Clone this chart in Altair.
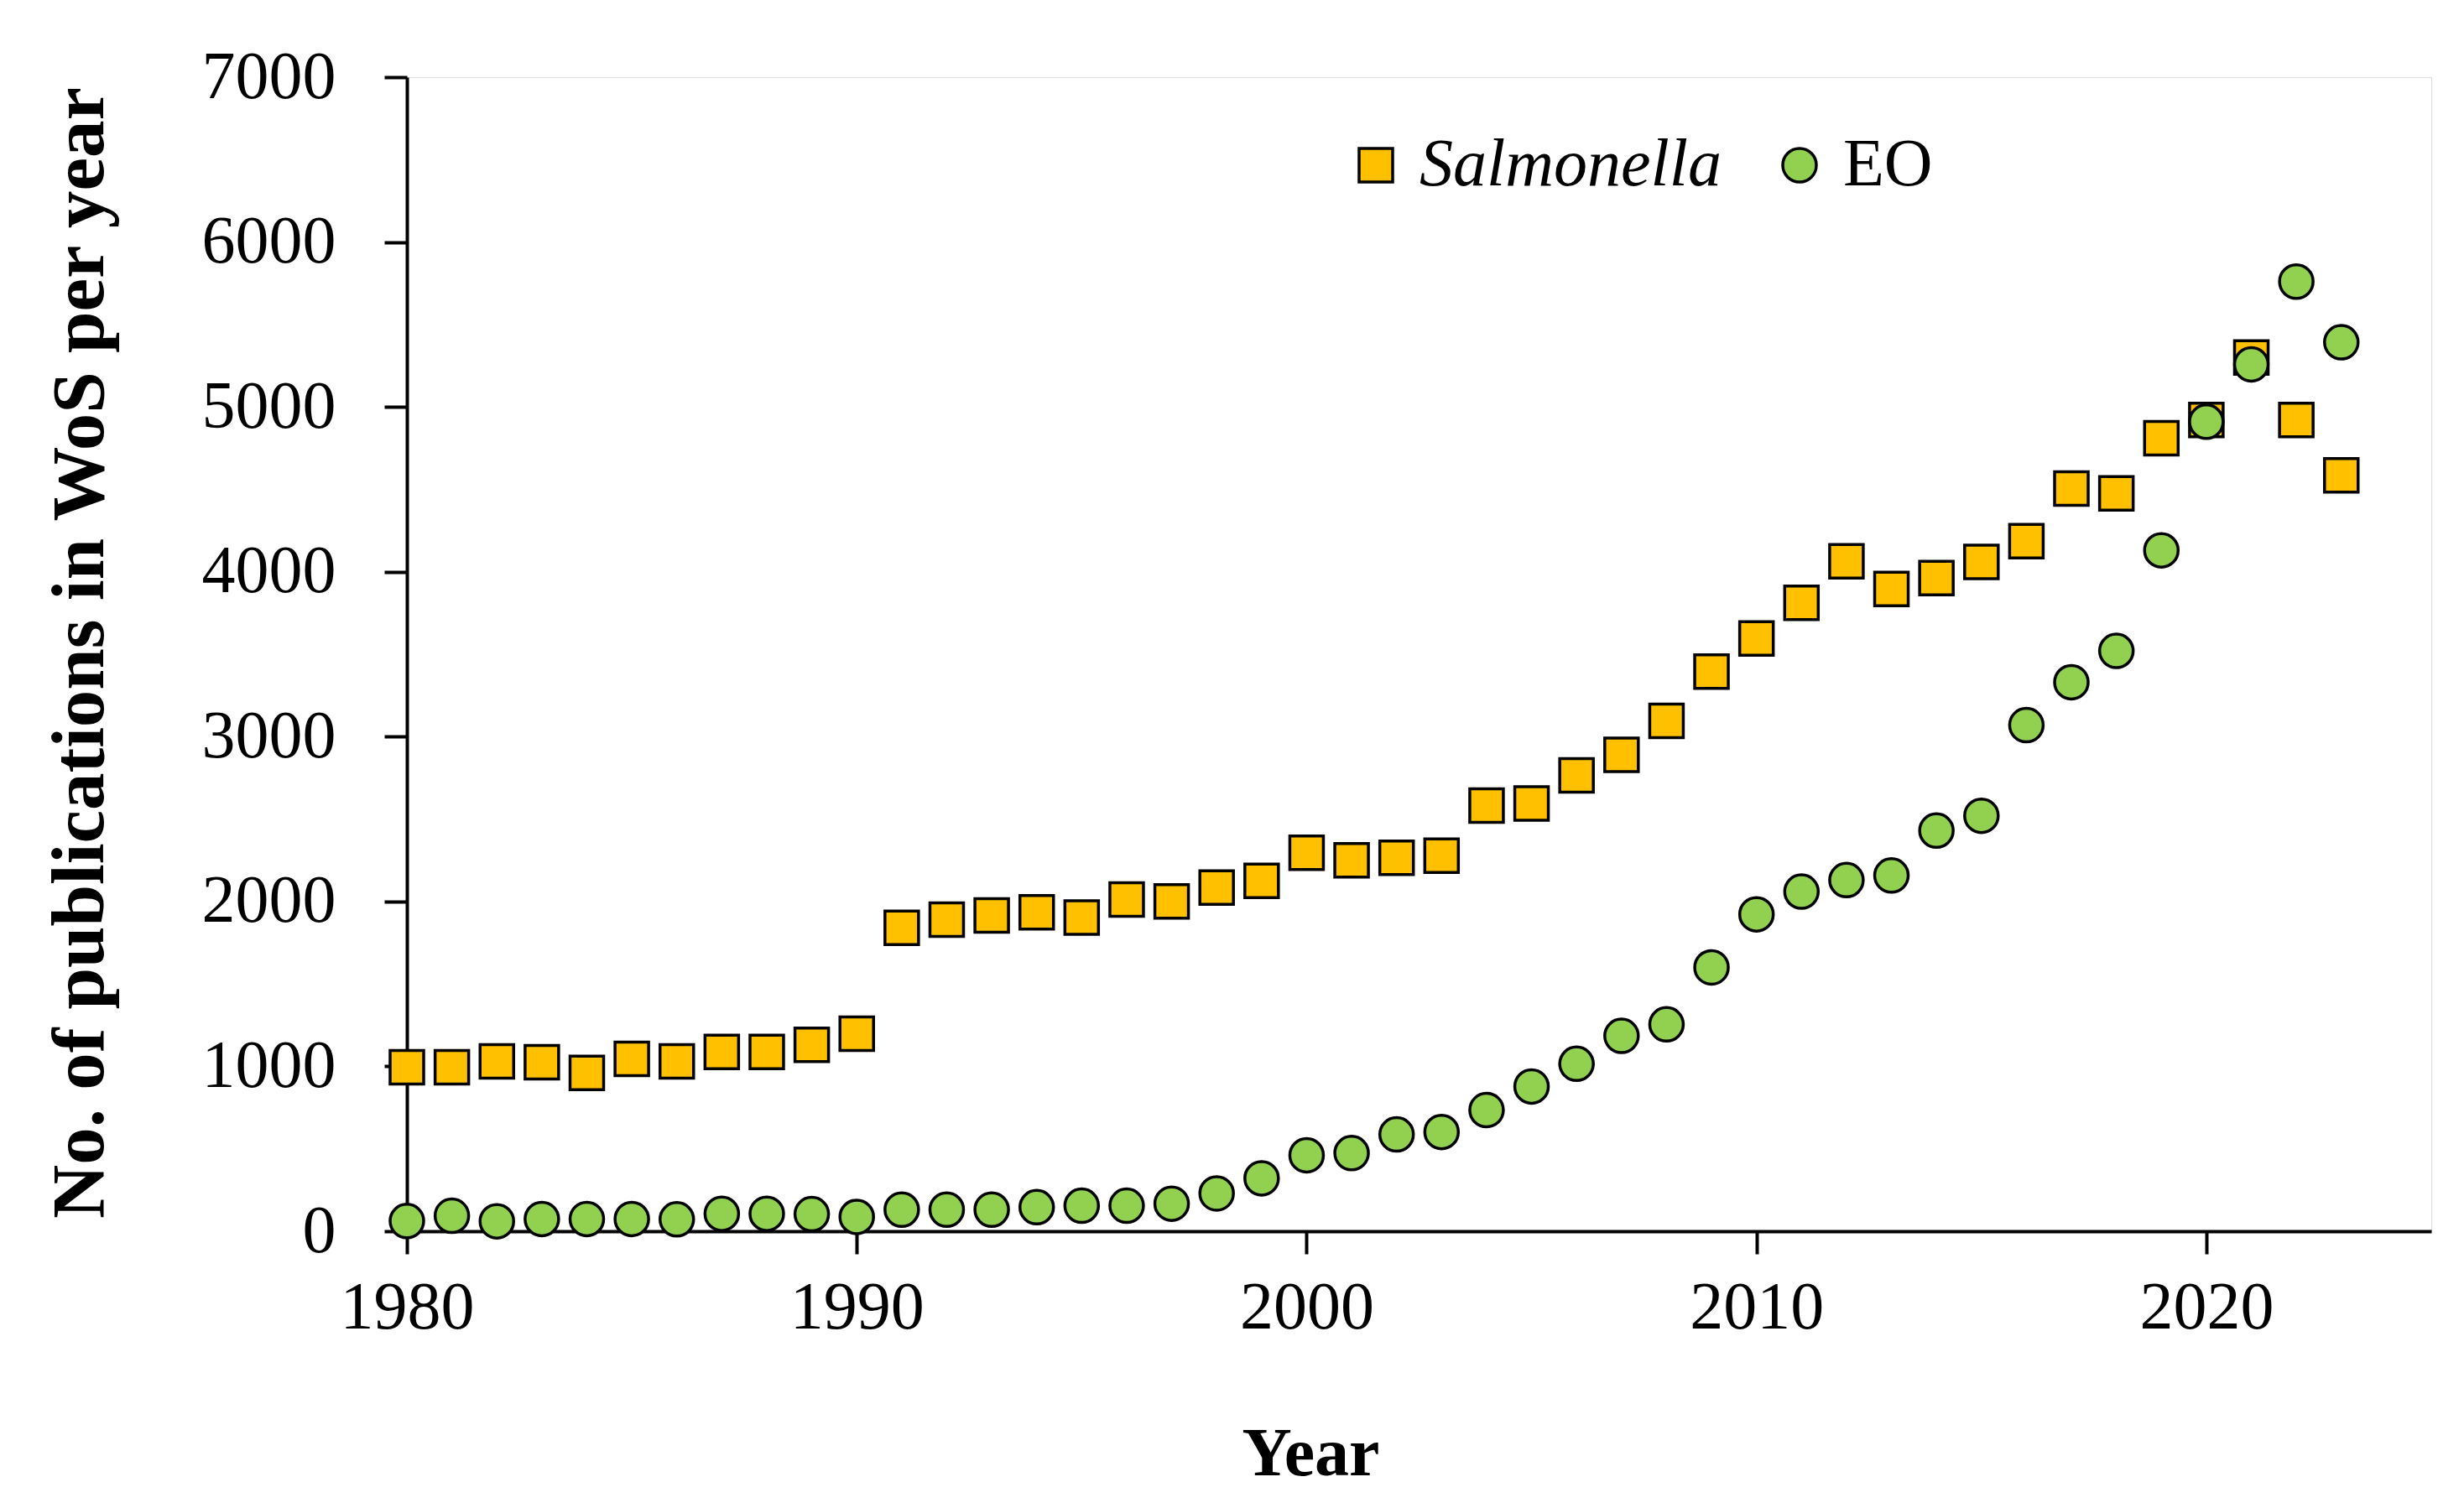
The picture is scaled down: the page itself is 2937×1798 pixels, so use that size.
import altair as alt
import pandas as pd

years = [1980, 1981, 1982, 1983, 1984, 1985, 1986, 1987, 1988, 1989,
         1990, 1991, 1992, 1993, 1994, 1995, 1996, 1997, 1998, 1999,
         2000, 2001, 2002, 2003, 2004, 2005, 2006, 2007, 2008, 2009,
         2010, 2011, 2012, 2013, 2014, 2015, 2016, 2017, 2018, 2019,
         2020, 2021, 2022, 2023]

salmonella = [995, 995, 1030, 1025, 960, 1045, 1030, 1088, 1088, 1130,
              1198, 1840, 1890, 1915, 1935, 1903, 2012, 2000, 2085, 2125,
              2295, 2250, 2265, 2278, 2582, 2595, 2765, 2890, 3095, 3395,
              3595, 3812, 4063, 3895, 3962, 4060, 4185, 4505, 4475, 4810,
              4920, 5300, 4920, 4585]

eo = [62, 94, 60, 74, 74, 74, 72, 106, 106, 104,
      87, 131, 131, 131, 146, 155, 155, 167, 229, 321,
      461, 474, 587, 602, 735, 878, 1016, 1185, 1255, 1600,
      1922, 2060, 2130, 2158, 2430, 2520, 3070, 3330, 3520, 4130,
      4910, 5258, 5760, 5392]

series_names = ["Salmonella", "EO"]
series_colors = ["#FFC000", "#92D050"]
series_strokes = ["black", "black"]
series_shapes = ["square", "circle"]
x_ticks = [1980, 1990, 2000, 2010, 2020]
y_ticks = [0, 1000, 2000, 3000, 4000, 5000, 6000, 7000]

rows = []
for name, vals in zip(series_names, [salmonella, eo]):
    for yr, v in zip(years, vals):
        rows.append({"Year": yr, "Count": v, "Series": name})
df = pd.DataFrame(rows)

FONT = "Liberation Serif"

legend = alt.Legend(
    title=None, orient="none", legendX=1115, legendY=65,
    direction="horizontal", symbolSize=1600, symbolStrokeWidth=3.5,
    symbolStrokeColor="black", labelFont=FONT, labelFontSize=80,
    labelColor="black", labelOffset=12, columnPadding=53, labelLimit=1000,
    padding=0,
    labelFontStyle={"expr": "datum.label == 'Salmonella' ? 'italic' : 'normal'"},
)

chart = alt.Chart(df).mark_point(
    filled=True, size=1600, strokeWidth=3.5, opacity=1
).encode(
    x=alt.X("Year:Q",
            scale=alt.Scale(domain=[1980, 2025], nice=False, zero=False),
            axis=alt.Axis(values=x_ticks, format="d", grid=False,
                          title="Year", titleFont=FONT, titleFontSize=82,
                          titleFontWeight="bold", titleColor="black",
                          titleX=1077, titleY=290, titleAlign="center",
                          titleBaseline="alphabetic",
                          labelFont=FONT, labelFontSize=80, labelColor="black",
                          labelPadding=25, tickSize=27, tickWidth=4,
                          tickColor="black", domainColor="black",
                          domainWidth=4, labelFlush=False)),
    y=alt.Y("Count:Q",
            scale=alt.Scale(domain=[0, 7000], nice=False),
            axis=alt.Axis(values=y_ticks, format="d", grid=False,
                          title="No. of publications in WoS per year",
                          titleFont=FONT, titleFontSize=89,
                          titleFontWeight="bold", titleColor="black",
                          titleX=-363, titleY=686, titleAngle=270,
                          titleAlign="center", titleBaseline="alphabetic",
                          labelFont=FONT, labelFontSize=80, labelColor="black",
                          labelPadding=58, tickSize=27, tickWidth=4,
                          tickColor="black", domainColor="black",
                          domainWidth=4, labelFlush=False)),
    fill=alt.Fill("Series:N",
                  scale=alt.Scale(domain=series_names, range=series_colors),
                  legend=legend),
    stroke=alt.Stroke("Series:N",
                      scale=alt.Scale(domain=series_names, range=series_strokes),
                      legend=legend),
    shape=alt.Shape("Series:N",
                    scale=alt.Scale(domain=series_names, range=series_shapes),
                    legend=legend),
    order=alt.Order("order:Q"),
).transform_calculate(
    order="datum.Series == 'Salmonella' ? 0 : 1"
).properties(
    width=2413, height=1376,
    autosize=alt.AutoSizeParams(type="none"),
    padding={"left": 477, "top": 84, "right": 30, "bottom": 318},
).configure_view(stroke=None).configure(background="white")

chart.save("out.html", embed_options={"renderer": "svg", "actions": False})
